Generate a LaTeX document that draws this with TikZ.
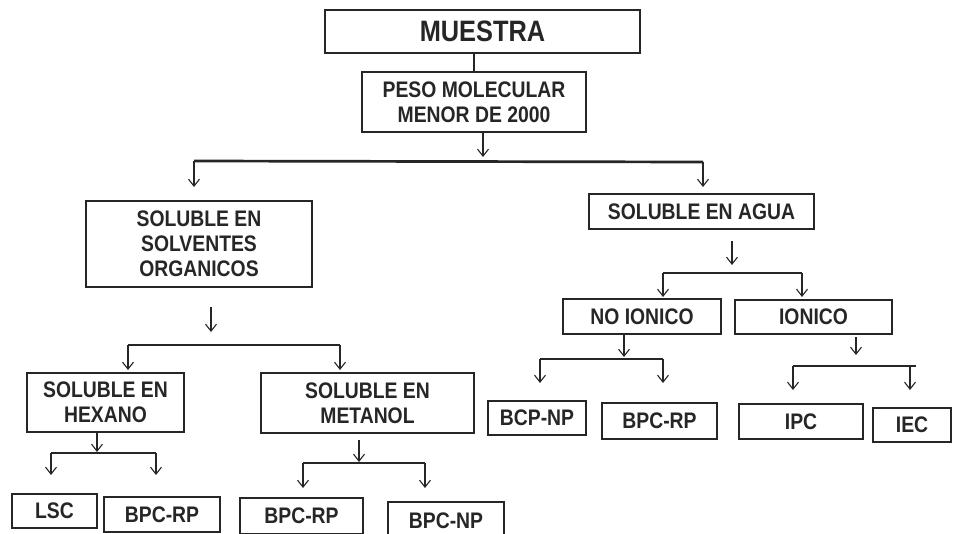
\documentclass[tikz,border=0pt]{standalone}
\usepackage{fontspec}
\usetikzlibrary{arrows.meta}
\newfontfamily\lab{Liberation Sans}[FakeStretch=0.86]
\definecolor{ink}{HTML}{262626}
\tikzset{
  box/.style={draw=ink, text=ink, line width=2.9pt, inner sep=0pt, outer sep=0pt,
    align=center, font=\lab\bfseries\fontsize{22.5}{25}\selectfont},
  wh/.style 2 args={minimum width=#1pt, minimum height=#2pt},
  bar/.style={draw=ink, line width=2.7pt},
  stem/.style={draw=ink, line width=1.1pt},
  arr/.style={draw=ink, line width=1.1pt, -{Straight Barb[length=7pt,width=11pt]}}
}
\begin{document}
\begin{tikzpicture}[x=1pt,y=-1pt]
\clip (0,0) rectangle (953,533);
\fill[white] (0,0) rectangle (953,533);

% boxes
\node[box, wh={315}{43}, font=\lab\bfseries\fontsize{29.5}{32}\selectfont] (muestra) at (482.5,31.5) {MUESTRA};
\node[box, wh={224}{60}] (peso) at (474,102) {PESO MOLECULAR\\MENOR DE 2000};
\node[box, wh={226}{86}] (org) at (199,244) {SOLUBLE EN\\SOLVENTES\\ORGANICOS};
\node[box, wh={225}{35}] (agua) at (701.5,211.5) {SOLUBLE EN AGUA};
\node[box, wh={157}{59}] (hex) at (105.5,402.5) {SOLUBLE EN\\HEXANO};
\node[box, wh={213}{60}] (met) at (367.5,403) {SOLUBLE EN\\METANOL};
\node[box, wh={158}{35}] (noion) at (642,316.5) {NO IONICO};
\node[box, wh={157}{34}] (ion) at (813.5,317) {IONICO};
\node[box, wh={85}{34}] (lsc) at (54.5,511) {LSC};
\node[box, wh={116}{35}] (rp1) at (162,514.5) {BPC-RP};
\node[box, wh={123}{36}] (rp2) at (301.5,516) {BPC-RP};
\node[box, wh={116}{37}] (np2) at (446,520.5) {BPC-NP};
\node[box, wh={98}{34}] (np1) at (537,418) {BCP-NP};
\node[box, wh={115}{36}] (rp3) at (659.5,421) {BPC-RP};
\node[box, wh={124}{35}] (ipc) at (801,421.5) {IPC};
\node[box, wh={78}{34}] (iec) at (912,425) {IEC};

% muestra -> peso
\draw[stem] (muestra.south -| peso.north) -- (peso.north);

% peso -> two solubility branches
\coordinate (s1) at (483,132); \coordinate (t1) at (483,157);
\coordinate (b1a) at (194,161); \coordinate (b1b) at (703,162);
\coordinate (a1a) at (194,187); \coordinate (a1b) at (703,187);
\draw[arr] (s1) -- (t1);
\draw[bar] (b1a) -- (b1b);
\draw[arr] (b1a) -- (a1a);
\draw[arr] (b1b) -- (a1b);

% organic solvents -> hexano / metanol
\coordinate (s2) at (211,307); \coordinate (t2) at (211,332);
\coordinate (b2a) at (128,345); \coordinate (b2b) at (340,345);
\coordinate (a2a) at (128,370); \coordinate (a2b) at (340,370);
\draw[arr] (s2) -- (t2);
\draw[bar] (b2a) -- (b2b);
\draw[arr] (b2a) -- (a2a);
\draw[arr] (b2b) -- (a2b);

% hexano -> LSC / BPC-RP
\coordinate (s3) at (97,432); \coordinate (t3) at (97,452);
\coordinate (b3a) at (51,453); \coordinate (b3b) at (156,453);
\coordinate (a3a) at (51,475); \coordinate (a3b) at (156,475);
\draw[arr] (s3) -- (t3);
\draw[bar] (b3a) -- (b3b);
\draw[arr] (b3a) -- (a3a);
\draw[arr] (b3b) -- (a3b);

% metanol -> BPC-RP / BPC-NP
\coordinate (s4) at (359,440); \coordinate (t4) at (359,462);
\coordinate (b4a) at (303,463); \coordinate (b4b) at (425,463);
\coordinate (a4a) at (303,488); \coordinate (a4b) at (425,488);
\draw[arr] (s4) -- (t4);
\draw[bar] (b4a) -- (b4b);
\draw[arr] (b4a) -- (a4a);
\draw[arr] (b4b) -- (a4b);

% agua -> no ionico / ionico
\coordinate (s5) at (732,241); \coordinate (t5) at (732,265);
\coordinate (b5a) at (663,273); \coordinate (b5b) at (802,273);
\coordinate (a5a) at (663,297); \coordinate (a5b) at (802,297);
\draw[arr] (s5) -- (t5);
\draw[bar] (b5a) -- (b5b);
\draw[arr] (b5a) -- (a5a);
\draw[arr] (b5b) -- (a5b);

% no ionico -> BCP-NP / BPC-RP
\coordinate (s6) at (624,334); \coordinate (t6) at (624,357);
\coordinate (b6a) at (540,359); \coordinate (b6b) at (663,359);
\coordinate (a6a) at (540,383); \coordinate (a6b) at (663,383);
\draw[arr] (s6) -- (t6);
\draw[bar] (b6a) -- (b6b);
\draw[arr] (b6a) -- (a6a);
\draw[arr] (b6b) -- (a6b);

% ionico -> IPC / IEC
\coordinate (s7) at (856,337); \coordinate (t7) at (856,355);
\coordinate (b7a) at (793,366); \coordinate (b7b) at (916,366);
\coordinate (a7a) at (793,390); \coordinate (a7b) at (910,390);
\draw[arr] (s7) -- (t7);
\draw[bar] (b7a) -- (b7b);
\draw[arr] (b7a) -- (a7a);
\draw[arr] (b7b -| a7b) -- (a7b);
\end{tikzpicture}
\end{document}
